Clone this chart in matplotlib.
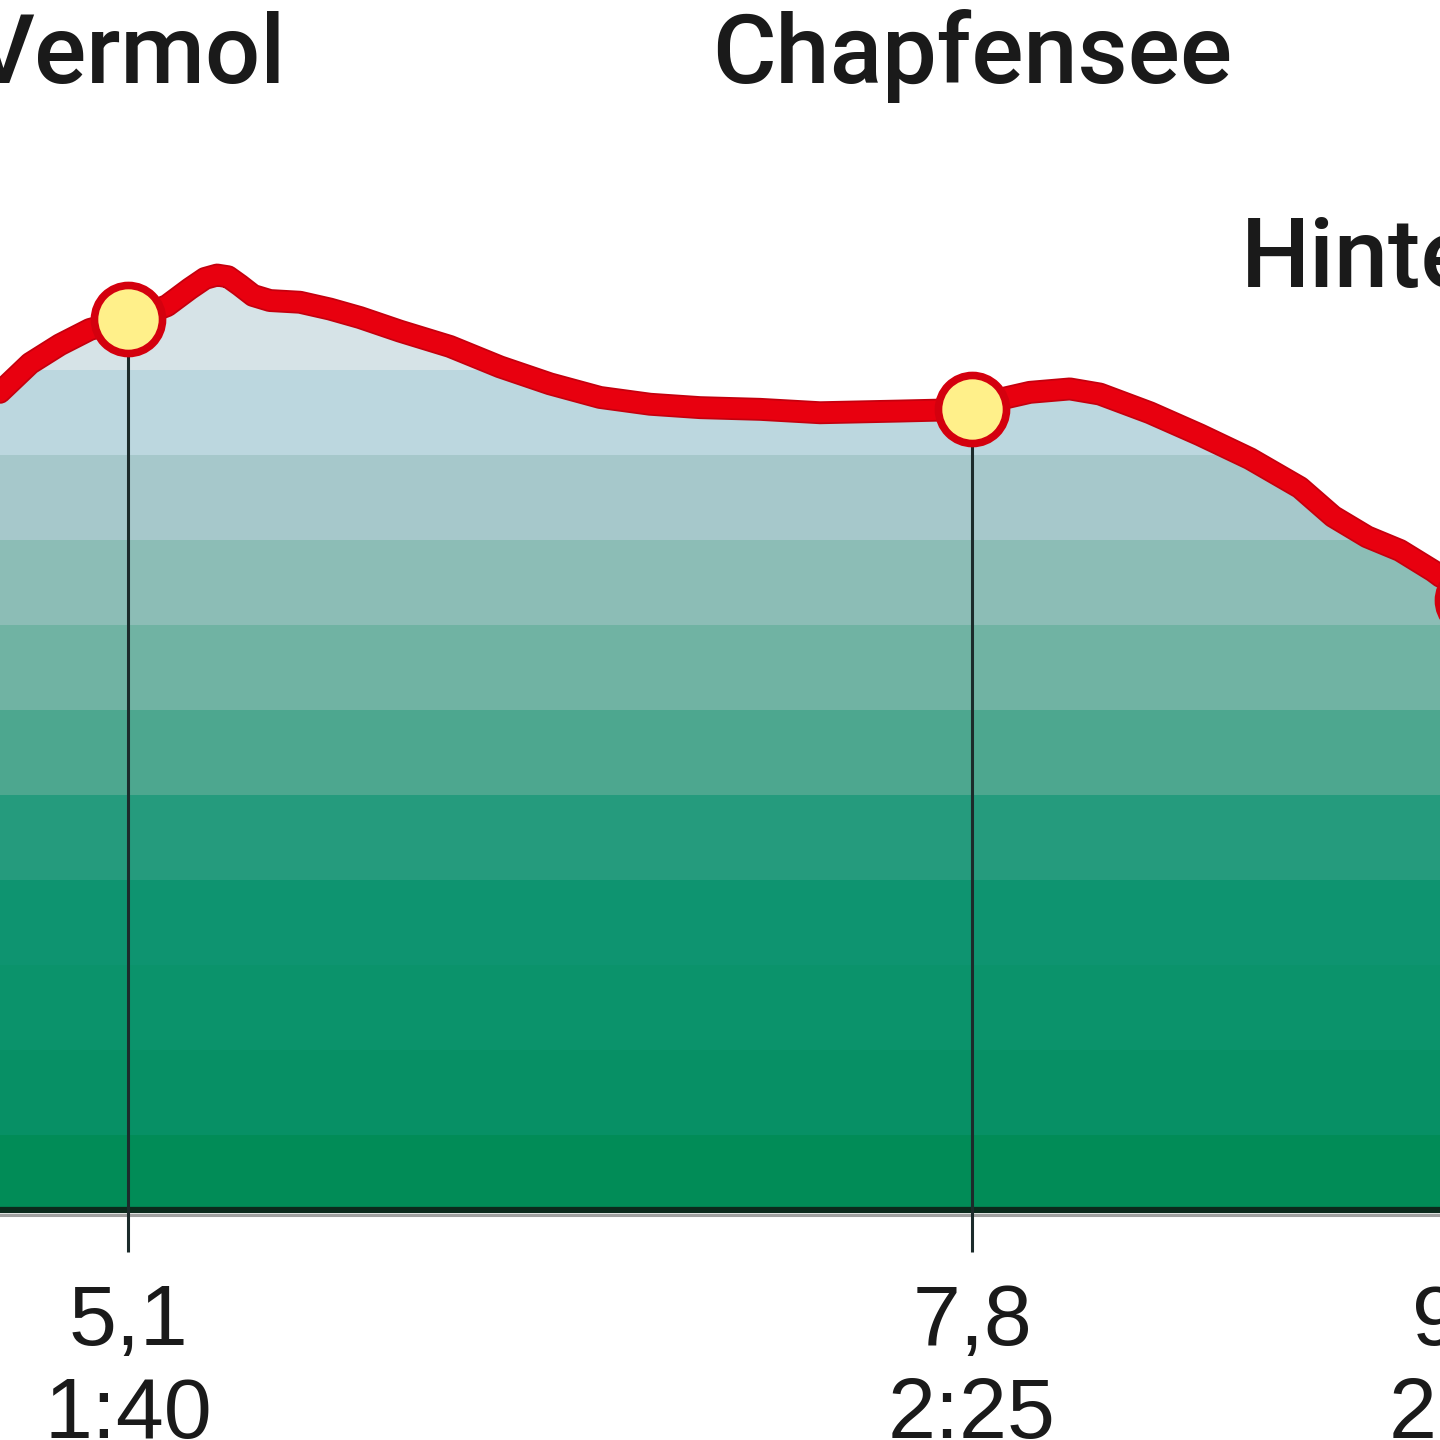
import matplotlib.pyplot as plt

# ---------------------------
# Profile data (km, elevation m)
# ---------------------------
km = [4.69, 4.787, 4.882, 4.978, 5.10, 5.170, 5.225, 5.298, 5.346, 5.385,
      5.420, 5.458, 5.500, 5.554, 5.650, 5.746, 5.842, 5.970, 6.130, 6.290,
      6.450, 6.610, 6.770, 6.930, 7.122, 7.314, 7.570, 7.80, 7.890, 7.985,
      8.113, 8.209, 8.369, 8.529, 8.689, 8.849, 8.955, 9.064, 9.169, 9.275,
      9.40]
elev = [1037, 1054, 1065, 1074, 1080, 1084, 1088, 1098, 1104, 1106,
        1105, 1100, 1094, 1091, 1090, 1086, 1081, 1073, 1064, 1052,
        1042, 1034, 1030, 1028, 1027, 1025, 1026, 1027, 1033, 1037,
        1039, 1036, 1025, 1012, 998, 981, 964, 952, 944, 932,
        915]

# stations
station_names = ["Vermol", "Chapfensee", "Hinterberg"]
station_km = [5.1, 7.8, 9.4]
station_elev = [1080, 1027, 915]
station_dist = ["5,1", "7,8", "9,4"]
station_time = ["1:40", "2:25", "2:50"]
name_elev = [1219, 1219, 1099]   # baseline of the place names

base = 556
band_edges = [base, 600, 650, 700, 750, 800, 850, 900, 950, 1000, 1050, 1200]
band_colors = ["#018c57", "#079065", "#0b936b", "#0e9470", "#259b7d", "#4da78f",
               "#70b3a3", "#8cbdb6", "#a6c8cb", "#bcd7df", "#d6e3e7"]

# ---------------------------
# Figure
# ---------------------------
fig = plt.figure(figsize=(14.4, 14.4), dpi=100)
ax = fig.add_axes([0, 0, 1, 1])
ax.set_xlim(4.6905, 9.2971)
ax.set_ylim(420.7, 1267.8)
ax.axis("off")

# banded fill under the profile
poly = ax.fill_between(km, elev, base, color="none", lw=0)
clip = poly.get_paths()[0]
for lo, hi, c in zip(band_edges[:-1], band_edges[1:], band_colors):
    span = ax.axhspan(lo, hi, color=c, lw=0, zorder=1)
    span.set_clip_path(clip, transform=ax.transData)

# base line
ax.axhline(base - 2.8, color="#a0a0a0", lw=2.2, zorder=3)
ax.axhline(base, color="#0b2a1c", lw=4.5, zorder=3)

# drop lines and ticks
for x, y in zip(station_km, station_elev):
    ax.plot([x, x], [531, y], color="#1c2b2b", lw=2.2, zorder=4, solid_capstyle="butt")

# profile line
ax.plot(km, elev, color="#c4000e", lw=16.5, zorder=5, solid_joinstyle="round",
        solid_capstyle="round")
ax.plot(km, elev, color="#e8000f", lw=14, zorder=5, solid_joinstyle="round",
        solid_capstyle="round")

# station markers
ax.plot(station_km, station_elev, "o", ms=49, mfc="#fff08a", mec="#d4000e",
        mew=5.5, zorder=6, clip_on=False)

# labels
for name, x, y in zip(station_names, station_km, name_elev):
    ax.text(x, y, name, ha="center", va="baseline", fontsize=70,
            family="Roboto", fontweight="medium", color="#1a1a1a")

for x, d, t in zip(station_km, station_dist, station_time):
    ax.text(x, 476.6, d, ha="center", va="baseline", fontsize=62,
            family="Liberation Sans", color="#1a1a1a")
    ax.text(x, 421.9, t, ha="center", va="baseline", fontsize=62,
            family="Liberation Sans", color="#1a1a1a")

fig.savefig("out.png", dpi=100)
